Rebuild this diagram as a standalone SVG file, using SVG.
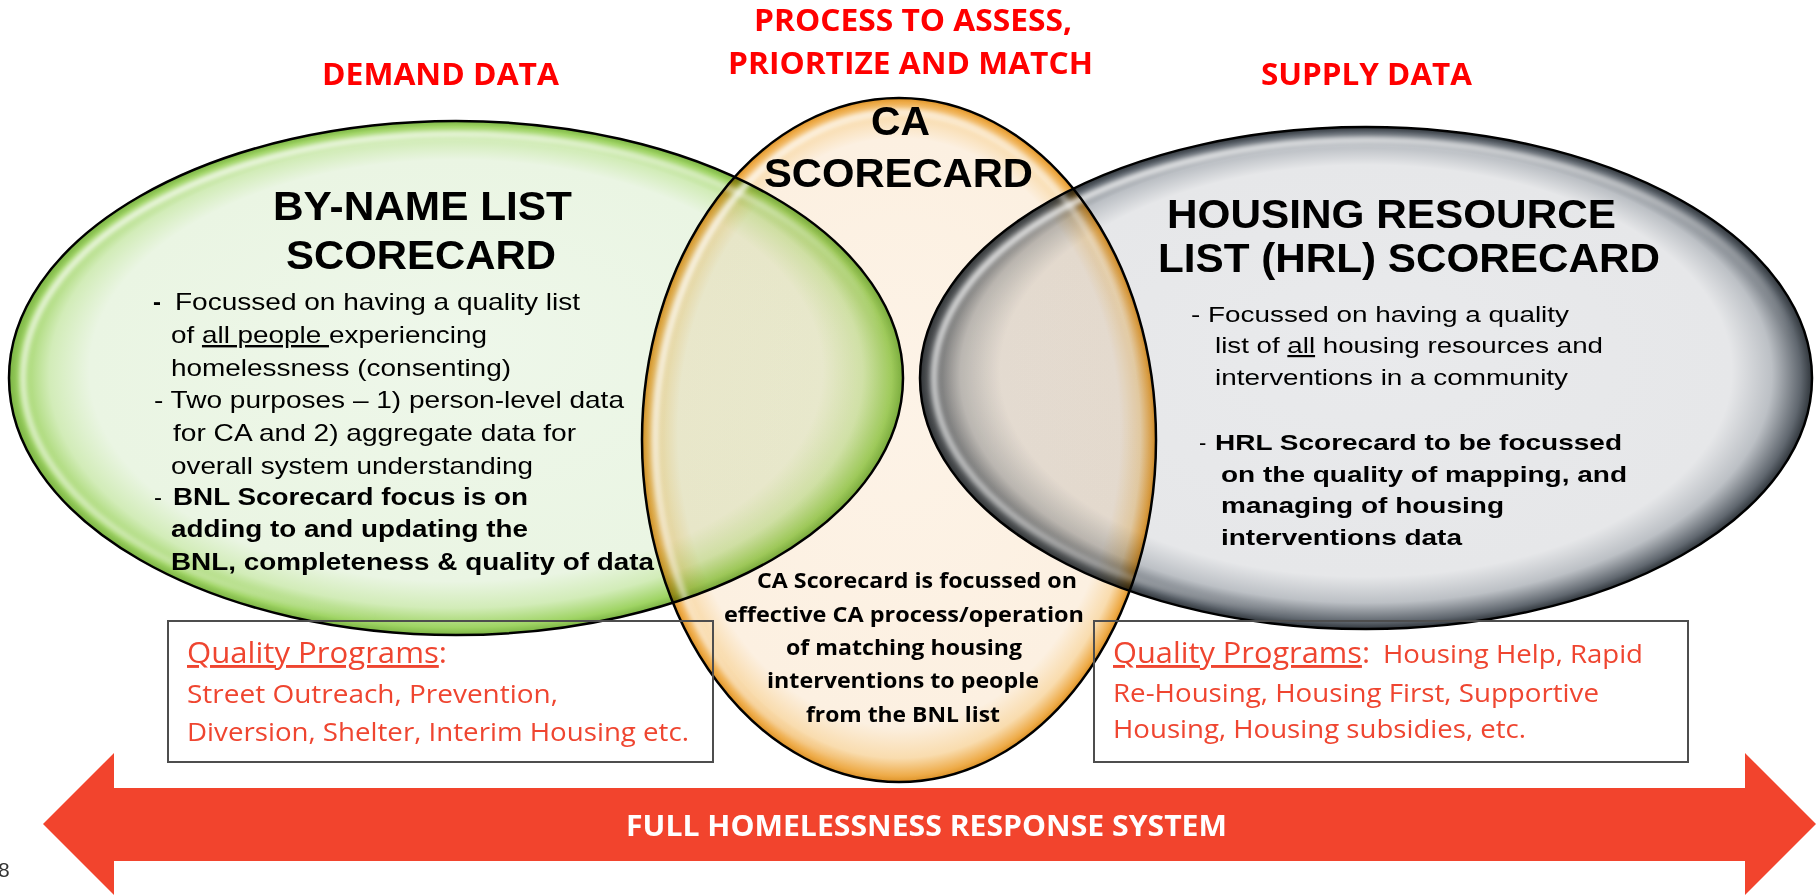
<svg xmlns="http://www.w3.org/2000/svg" width="1819" height="895" viewBox="0 0 1819 895">
  <defs>
    <style>
      .title { font-family: "Open Sans", "Liberation Sans", sans-serif; font-weight: bold; fill: #ff0000; font-size: 31px; }
      .head { font-family: "Liberation Sans Narrow", "Liberation Sans", sans-serif; font-weight: bold; fill: #000; font-size: 40px; }
      .body { font-family: "Liberation Sans Narrow", "Liberation Sans", sans-serif; fill: #000; font-size: 24px; }
      .bodyR { font-family: "Liberation Sans Narrow", "Liberation Sans", sans-serif; fill: #000; font-size: 22px; }
      .b { font-weight: bold; }
      .ca-head { font-family: "Liberation Sans", sans-serif; font-weight: bold; fill: #000; font-size: 40px; }
      .ca-body { font-family: "Open Sans", "Liberation Sans", sans-serif; font-weight: bold; fill: #000; font-size: 22px; }
      .qp-head { font-family: "Open Sans", "Liberation Sans", sans-serif; fill: #ef4530; font-size: 29px; }
      .qp { font-family: "Open Sans", "Liberation Sans", sans-serif; fill: #ef4530; font-size: 25px; }
      .u { text-decoration: underline; }
      .outline { fill: none; stroke: #000; stroke-width: 2.5; }
      .box { fill: none; stroke: #4d4d4d; stroke-width: 2; }
      .shine { fill: none; stroke-width: 6; filter: url(#soft); }
    </style>
    <radialGradient id="gGreen" cx="0.5" cy="0.5" r="0.5" fx="0.5" fy="0.42">
      <stop offset="0" stop-color="#eef7ea"/>
      <stop offset="0.82" stop-color="#eaf5e3"/>
      <stop offset="0.91" stop-color="#d2ecb8"/>
      <stop offset="0.975" stop-color="#9fd464"/>
      <stop offset="1" stop-color="#7bb443"/>
    </radialGradient>
    <radialGradient id="gGray" cx="0.5" cy="0.5" r="0.5" fx="0.5" fy="0.42">
      <stop offset="0" stop-color="#e9eaec"/>
      <stop offset="0.82" stop-color="#e6e7e9"/>
      <stop offset="0.91" stop-color="#bcc0c5"/>
      <stop offset="0.975" stop-color="#60676f"/>
      <stop offset="1" stop-color="#30363c"/>
    </radialGradient>
    <radialGradient id="gOrange" cx="0.5" cy="0.5" r="0.5" fx="0.5" fy="0.42">
      <stop offset="0" stop-color="#fdf3e7"/>
      <stop offset="0.86" stop-color="#fcf0e1"/>
      <stop offset="0.94" stop-color="#f9dcae"/>
      <stop offset="0.985" stop-color="#eeab48"/>
      <stop offset="1" stop-color="#dc9228"/>
    </radialGradient>
    <linearGradient id="gShine" x1="0" y1="0" x2="1" y2="1">
      <stop offset="0" stop-color="#fff" stop-opacity="0.95"/>
      <stop offset="0.45" stop-color="#fff" stop-opacity="0.5"/>
      <stop offset="0.7" stop-color="#fff" stop-opacity="0"/>
    </linearGradient>
    <filter id="soft" x="-10%" y="-10%" width="120%" height="120%">
      <feGaussianBlur stdDeviation="2.5"/>
    </filter>
  </defs>

  <rect x="0" y="0" width="1819" height="895" fill="#fff"/>

  <!-- section titles -->
  <g id="titles">
    <text class="title" x="322" y="85" textLength="237" lengthAdjust="spacingAndGlyphs">DEMAND DATA</text>
    <text class="title" x="754" y="31" textLength="318" lengthAdjust="spacingAndGlyphs">PROCESS TO ASSESS,</text>
    <text class="title" x="728" y="74" textLength="365" lengthAdjust="spacingAndGlyphs">PRIORTIZE AND MATCH</text>
    <text class="title" x="1261" y="85" textLength="211" lengthAdjust="spacingAndGlyphs">SUPPLY DATA</text>
  </g>

  <!-- circle fills -->
  <g id="fills">
    <ellipse cx="456" cy="378" rx="447" ry="257" fill="url(#gGreen)"/>
    <ellipse cx="1366" cy="378" rx="446" ry="251" fill="url(#gGray)"/>
    <ellipse cx="899" cy="440" rx="257" ry="342" fill="url(#gOrange)" style="mix-blend-mode:multiply"/>
    <ellipse class="shine" cx="456" cy="378" rx="433" ry="244" stroke="url(#gShine)"/>
    <ellipse class="shine" cx="1366" cy="378" rx="432" ry="238" stroke="url(#gShine)"/>
    <ellipse class="shine" cx="899" cy="440" rx="244" ry="328" stroke="url(#gShine)"/>
  </g>

  <!-- by-name list node -->
  <g id="bnl">
    <ellipse class="outline" cx="456" cy="378" rx="447" ry="257"/>
    <text class="head" x="273" y="220" textLength="299" lengthAdjust="spacingAndGlyphs">BY-NAME LIST</text>
    <text class="head" x="286" y="269" textLength="270" lengthAdjust="spacingAndGlyphs">SCORECARD</text>
    <text class="body b" x="153" y="310" font-size="27">-</text>
    <text class="body" x="175" y="310" textLength="405" lengthAdjust="spacingAndGlyphs">Focussed on having a quality list</text>
    <text class="body" x="171" y="343" textLength="316" lengthAdjust="spacingAndGlyphs">of <tspan class="u">all people </tspan>experiencing</text>
    <text class="body" x="171" y="376" textLength="340" lengthAdjust="spacingAndGlyphs">homelessness (consenting)</text>
    <text class="body" x="154" y="408" textLength="470" lengthAdjust="spacingAndGlyphs">- Two purposes – 1) person-level data</text>
    <text class="body" x="173" y="441" textLength="403" lengthAdjust="spacingAndGlyphs">for CA and 2) aggregate data for</text>
    <text class="body" x="171" y="474" textLength="362" lengthAdjust="spacingAndGlyphs">overall system understanding</text>
    <text class="body" x="154" y="505">-</text>
    <text class="body b" x="173" y="505" textLength="355" lengthAdjust="spacingAndGlyphs">BNL Scorecard focus is on</text>
    <text class="body b" x="171" y="537" textLength="357" lengthAdjust="spacingAndGlyphs">adding to and updating the</text>
    <text class="body b" x="171" y="570" textLength="483" lengthAdjust="spacingAndGlyphs">BNL, completeness &amp; quality of data</text>
  </g>

  <!-- housing resource list node -->
  <g id="hrl">
    <ellipse class="outline" cx="1366" cy="378" rx="446" ry="251"/>
    <text class="head" x="1167" y="228" textLength="449" lengthAdjust="spacingAndGlyphs">HOUSING RESOURCE</text>
    <text class="head" x="1158" y="272" textLength="502" lengthAdjust="spacingAndGlyphs">LIST (HRL) SCORECARD</text>
    <text class="bodyR" x="1191" y="322" textLength="378" lengthAdjust="spacingAndGlyphs">- Focussed on having a quality</text>
    <text class="bodyR" x="1215" y="353" textLength="388" lengthAdjust="spacingAndGlyphs">list of <tspan class="u">all</tspan> housing resources and</text>
    <text class="bodyR" x="1215" y="385" textLength="353" lengthAdjust="spacingAndGlyphs">interventions in a community</text>
    <text class="bodyR" x="1199" y="450">-</text>
    <text class="bodyR b" x="1215" y="450" textLength="407" lengthAdjust="spacingAndGlyphs">HRL Scorecard to be focussed</text>
    <text class="bodyR b" x="1221" y="482" textLength="406" lengthAdjust="spacingAndGlyphs">on the quality of mapping, and</text>
    <text class="bodyR b" x="1221" y="513" textLength="283" lengthAdjust="spacingAndGlyphs">managing of housing</text>
    <text class="bodyR b" x="1221" y="545" textLength="241" lengthAdjust="spacingAndGlyphs">interventions data</text>
  </g>

  <!-- coordinated access node -->
  <g id="ca">
    <ellipse class="outline" cx="899" cy="440" rx="257" ry="342"/>
    <text class="ca-head" x="871" y="135" textLength="59" lengthAdjust="spacingAndGlyphs">CA</text>
    <text class="ca-head" x="764" y="187" textLength="269" lengthAdjust="spacingAndGlyphs">SCORECARD</text>
    <text class="ca-body" x="757" y="588" textLength="320" lengthAdjust="spacingAndGlyphs">CA Scorecard is focussed on</text>
    <text class="ca-body" x="724" y="622" textLength="360" lengthAdjust="spacingAndGlyphs">effective CA process/operation</text>
    <text class="ca-body" x="786" y="655" textLength="236" lengthAdjust="spacingAndGlyphs">of matching housing</text>
    <text class="ca-body" x="767" y="688" textLength="272" lengthAdjust="spacingAndGlyphs">interventions to people</text>
    <text class="ca-body" x="806" y="722" textLength="194" lengthAdjust="spacingAndGlyphs">from the BNL list</text>
  </g>

  <!-- demand-side programs -->
  <g id="programs-demand">
    <rect class="box" x="168" y="621" width="545" height="141"/>
    <text class="qp-head" x="187" y="663" textLength="260" lengthAdjust="spacingAndGlyphs"><tspan class="u">Quality Programs</tspan>:</text>
    <text class="qp" x="187" y="703" textLength="371" lengthAdjust="spacingAndGlyphs">Street Outreach, Prevention,</text>
    <text class="qp" x="187" y="741" textLength="502" lengthAdjust="spacingAndGlyphs">Diversion, Shelter, Interim Housing etc.</text>
  </g>

  <!-- supply-side programs -->
  <g id="programs-supply">
    <rect class="box" x="1094" y="621" width="594" height="141"/>
    <text class="qp-head" x="1113" y="663" textLength="257" lengthAdjust="spacingAndGlyphs"><tspan class="u">Quality Programs</tspan>:</text>
    <text class="qp" x="1383" y="663" textLength="260" lengthAdjust="spacingAndGlyphs">Housing Help, Rapid</text>
    <text class="qp" x="1113" y="702" textLength="486" lengthAdjust="spacingAndGlyphs">Re-Housing, Housing First, Supportive</text>
    <text class="qp" x="1113" y="738" textLength="413" lengthAdjust="spacingAndGlyphs">Housing, Housing subsidies, etc.</text>
  </g>

  <!-- system-wide double arrow -->
  <g id="connectors">
    <polygon points="43,824 114,753 114,788 1745,788 1745,753 1816,824 1745,895 1745,861 114,861 114,895" fill="#f2442d"/>
    <text x="626" y="836" textLength="601" lengthAdjust="spacingAndGlyphs" font-family="Open Sans, Liberation Sans, sans-serif" font-weight="bold" font-size="28" fill="#fff">FULL HOMELESSNESS RESPONSE SYSTEM</text>
  </g>

  <text x="-2" y="877" font-family="Liberation Sans, sans-serif" font-size="21" fill="#333">8</text>
</svg>
